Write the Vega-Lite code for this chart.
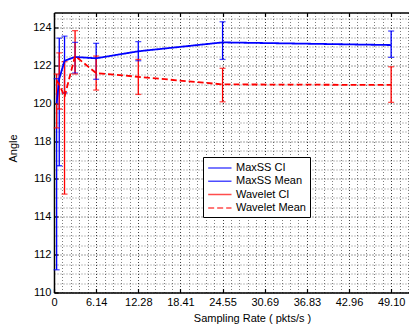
{
  "$schema": "https://vega.github.io/schema/vega-lite/v6.json",
  "width": 355,
  "height": 280,
  "autosize": {"type": "none"},
  "padding": {"left": 54, "top": 12.5, "right": 0, "bottom": 32.5},
  "background": "white",
  "config": {
    "view": {"stroke": null},
    "font": "Liberation Sans",
    "axis": {
      "domainColor": "#000",
      "domainWidth": 1.5,
      "tickColor": "#000",
      "tickWidth": 1.2,
      "labelColor": "#000",
      "labelFontSize": 11,
      "titleFontSize": 11,
      "titleFontWeight": "normal",
      "titleColor": "#000",
      "labelFlush": false,
      "labelOverlap": false
    },
    "legend": {
      "title": null,
      "orient": "none",
      "legendX": 149,
      "legendY": 144.5,
      "padding": 4,
      "strokeColor": "#000",
      "fillColor": "#fff",
      "labelFontSize": 11,
      "labelColor": "#000",
      "symbolType": "M-1,0H3",
      "symbolSize": 136,
      "symbolStrokeWidth": 1.5,
      "labelOffset": 15,
      "rowPadding": 1.3
    }
  },
  "data": {
    "values": [
      {"rate": 0.384, "ci": "MaxSS CI", "meanLabel": "MaxSS Mean", "mean": 120.0, "lo": 111.2, "hi": 121.3},
      {"rate": 0.767, "ci": "MaxSS CI", "meanLabel": "MaxSS Mean", "mean": 121.3, "lo": 116.7, "hi": 123.45},
      {"rate": 1.534, "ci": "MaxSS CI", "meanLabel": "MaxSS Mean", "mean": 122.25, "lo": 120.55, "hi": 123.55},
      {"rate": 3.069, "ci": "MaxSS CI", "meanLabel": "MaxSS Mean", "mean": 122.45, "lo": 121.6, "hi": 123.22},
      {"rate": 6.1375, "ci": "MaxSS CI", "meanLabel": "MaxSS Mean", "mean": 122.38, "lo": 121.27, "hi": 123.17},
      {"rate": 12.275, "ci": "MaxSS CI", "meanLabel": "MaxSS Mean", "mean": 122.75, "lo": 122.25, "hi": 123.26},
      {"rate": 24.55, "ci": "MaxSS CI", "meanLabel": "MaxSS Mean", "mean": 123.22, "lo": 122.32, "hi": 124.31},
      {"rate": 49.1, "ci": "MaxSS CI", "meanLabel": "MaxSS Mean", "mean": 123.08, "lo": 122.43, "hi": 123.82},
      {"rate": 0.384, "ci": "Wavelet CI", "meanLabel": "Wavelet Mean", "mean": 121.2, "lo": 118.7, "hi": 121.55},
      {"rate": 0.767, "ci": "Wavelet CI", "meanLabel": "Wavelet Mean", "mean": 121.0, "lo": 119.7, "hi": 122.67},
      {"rate": 1.534, "ci": "Wavelet CI", "meanLabel": "Wavelet Mean", "mean": 120.35, "lo": 115.2, "hi": 122.2},
      {"rate": 3.069, "ci": "Wavelet CI", "meanLabel": "Wavelet Mean", "mean": 122.5, "lo": 121.55, "hi": 123.84},
      {"rate": 6.1375, "ci": "Wavelet CI", "meanLabel": "Wavelet Mean", "mean": 121.6, "lo": 120.7, "hi": 122.5},
      {"rate": 12.275, "ci": "Wavelet CI", "meanLabel": "Wavelet Mean", "mean": 121.4, "lo": 120.47, "hi": 122.32},
      {"rate": 24.55, "ci": "Wavelet CI", "meanLabel": "Wavelet Mean", "mean": 121.0, "lo": 120.08, "hi": 121.85},
      {"rate": 49.1, "ci": "Wavelet CI", "meanLabel": "Wavelet Mean", "mean": 120.97, "lo": 120.05, "hi": 121.93}
    ]
  },
  "layer": [
    {
      "mark": {"type": "rule", "strokeWidth": 1.3},
      "encoding": {
        "x": {
          "field": "rate", "type": "quantitative",
          "scale": {"domain": [0, 51.7], "nice": false, "zero": false},
          "axis": {
            "orient": "bottom",
            "values": [0, 6.14, 12.28, 18.41, 24.55, 30.69, 36.83, 42.96, 49.1],
            "labelExpr": "datum.value === 0 ? '0' : format(datum.value, '.2f')",
            "tickSize": -4,
            "labelPadding": 8,
            "grid": true,
            "gridDash": [1, 2],
            "gridColor": "#000",
            "gridOpacity": 0.75,
            "title": "Sampling Rate ( pkts/s )",
            "titleX": 198,
            "titleY": 28.5,
            "titleBaseline": "alphabetic",
            "titleAlign": "center"
          }
        },
        "y": {
          "field": "lo", "type": "quantitative",
          "scale": {"domain": [110, 124.8], "nice": false, "zero": false},
          "axis": {
            "orient": "left",
            "values": [110, 112, 114, 116, 118, 120, 122, 124],
            "tickSize": -4,
            "labelPadding": 7,
            "grid": true,
            "gridDash": [1, 2],
            "gridColor": "#000",
            "gridOpacity": 0.75,
            "title": "Angle",
            "titleX": -35.5,
            "titleY": 135.5,
            "titleAlign": "center"
          }
        },
        "y2": {"field": "hi"},
        "color": {
          "field": "ci", "type": "nominal",
          "scale": {"domain": ["MaxSS CI", "MaxSS Mean", "Wavelet CI", "Wavelet Mean"], "range": ["#0000ff", "#0000ff", "#ff0000", "#ff0000"]}
        }
      }
    },
    {
      "mark": {"type": "tick", "orient": "horizontal", "size": 6, "thickness": 1.3},
      "encoding": {
        "x": {
          "field": "rate", "type": "quantitative",
          "axis": {
            "orient": "top",
            "values": [0, 6.14, 12.28, 18.41, 24.55, 30.69, 36.83, 42.96, 49.1],
            "labels": false,
            "tickSize": -4,
            "grid": false,
            "title": null
          }
        },
        "y": {
          "field": "lo", "type": "quantitative",
          "axis": {
            "orient": "right",
            "values": [110.5, 111, 111.5, 112.5, 113, 113.5, 114.5, 115, 115.5, 116.5, 117, 117.5, 118.5, 119, 119.5, 120.5, 121, 121.5, 122.5, 123, 123.5, 124.5],
            "labels": false,
            "ticks": false,
            "domain": false,
            "grid": true,
            "gridDash": [1, 2],
            "gridColor": "#000",
            "gridOpacity": 0.5,
            "title": null
          }
        },
        "color": {"field": "ci", "type": "nominal"}
      }
    },
    {
      "mark": {"type": "tick", "orient": "horizontal", "size": 6, "thickness": 1.3},
      "encoding": {
        "x": {"field": "rate", "type": "quantitative", "axis": null},
        "y": {"field": "hi", "type": "quantitative", "axis": null},
        "color": {"field": "ci", "type": "nominal"}
      }
    },
    {
      "mark": {"type": "line", "strokeWidth": 1.8},
      "encoding": {
        "x": {
          "field": "rate", "type": "quantitative",
          "axis": {
            "orient": "bottom",
            "values": [1.23, 2.46, 3.68, 4.91, 7.37, 8.59, 9.82, 11.05, 13.5, 14.73, 15.96, 17.19, 19.64, 20.87, 22.1, 23.32, 25.78, 27.01, 28.23, 29.46, 31.92, 33.14, 34.37, 35.6, 38.05, 39.28, 40.51, 41.74, 44.19, 45.42, 46.65, 47.87, 50.33, 51.56],
            "labels": false,
            "ticks": false,
            "domain": false,
            "grid": true,
            "gridDash": [1, 2],
            "gridColor": "#000",
            "gridOpacity": 0.5,
            "title": null
          }
        },
        "y": {"field": "mean", "type": "quantitative", "axis": null},
        "color": {"field": "meanLabel", "type": "nominal"},
        "strokeDash": {
          "field": "meanLabel", "type": "nominal",
          "scale": {"domain": ["MaxSS CI", "MaxSS Mean", "Wavelet CI", "Wavelet Mean"], "range": [[1, 0], [1, 0], [1, 0], [6, 3]]}
        }
      }
    }
  ]
}
